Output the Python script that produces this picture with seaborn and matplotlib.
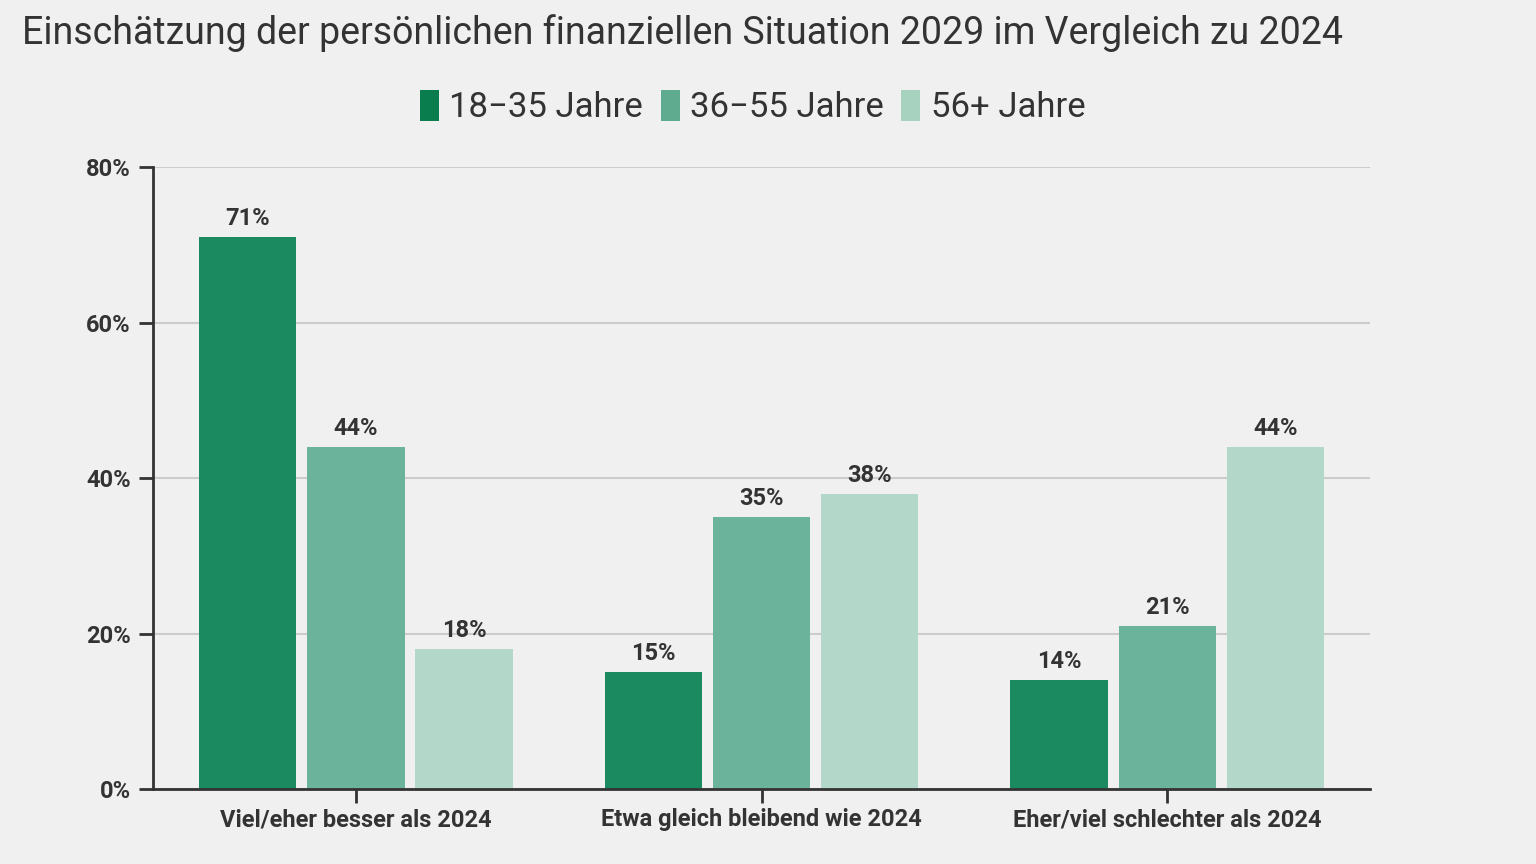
import matplotlib
matplotlib.use("Agg")
import matplotlib.pyplot as plt
import seaborn as sns
import pandas as pd
from matplotlib.patches import Patch

# data
categories = ["Viel/eher besser als 2024", "Etwa gleich bleibend wie 2024", "Eher/viel schlechter als 2024"]
groups = ["18\u221235 Jahre", "36\u221255 Jahre", "56+ Jahre"]
young = [71, 15, 14]
middle = [44, 35, 21]
older = [18, 38, 44]
colors = ["#1b8a60", "#6bb39a", "#b3d7c8"]
legend_colors = ["#0a7d4f", "#5eab8f", "#a8d2c0"]

df = pd.DataFrame({
    "Kategorie": categories * 3,
    "Gruppe": [groups[0]] * 3 + [groups[1]] * 3 + [groups[2]] * 3,
    "Wert": young + middle + older,
})

sns.set_theme(style="white")
plt.rcParams["font.family"] = ["Roboto", "DejaVu Sans"]
bg = "#f0f0f0"
text_col = "#333333"

fig = plt.figure(figsize=(15.36, 8.64), dpi=100, facecolor=bg)
ax = fig.add_axes([0.0996, 0.0868, 0.7924, 0.7199])
ax.set_facecolor(bg)

sns.barplot(data=df, x="Kategorie", y="Wert", hue="Gruppe", palette=colors,
            width=0.8, gap=0.1, ax=ax, legend=False, saturation=1, linewidth=0)

for c in ax.containers:
    ax.bar_label(c, labels=[f"{v:.0f}%" for v in c.datavalues], padding=5,
                 fontsize=17, fontweight="bold", color=text_col)

ax.set_ylim(0, 80)
ax.set_xlim(-0.5, 2.5)
ax.set_yticks([0, 20, 40, 60, 80])
ax.set_yticklabels([f"{t}%" for t in [0, 20, 40, 60, 80]])
ax.yaxis.grid(True, color="#cccccc", linewidth=1.5)
ax.set_axisbelow(True)
ax.set_xlabel("")
ax.set_ylabel("")
for s in ["top", "right"]:
    ax.spines[s].set_visible(False)
for s in ["left", "bottom"]:
    ax.spines[s].set_color(text_col)
    ax.spines[s].set_linewidth(2)
ax.tick_params(axis="both", which="both", direction="out", length=10, width=2,
               bottom=True, left=True, color=text_col, labelcolor=text_col,
               labelsize=17, pad=6)
ax.tick_params(axis="x", pad=4)
for lab in ax.get_xticklabels() + ax.get_yticklabels():
    lab.set_fontweight("bold")

fig.text(0.014, 0.962, "Einsch\u00e4tzung der pers\u00f6nlichen finanziellen Situation 2029 im Vergleich zu 2024",
         fontsize=27, color=text_col, va="center", ha="left")

handles = [Patch(facecolor=c, edgecolor="none") for c in legend_colors]
fig.legend(handles, groups, loc="center", bbox_to_anchor=(0.49, 0.876), ncol=3,
           frameon=False, fontsize=25, handlelength=0.55, handleheight=1.0,
           handletextpad=0.3, columnspacing=0.5, labelcolor=text_col)

fig.savefig("out.png", dpi=100, facecolor=bg)
